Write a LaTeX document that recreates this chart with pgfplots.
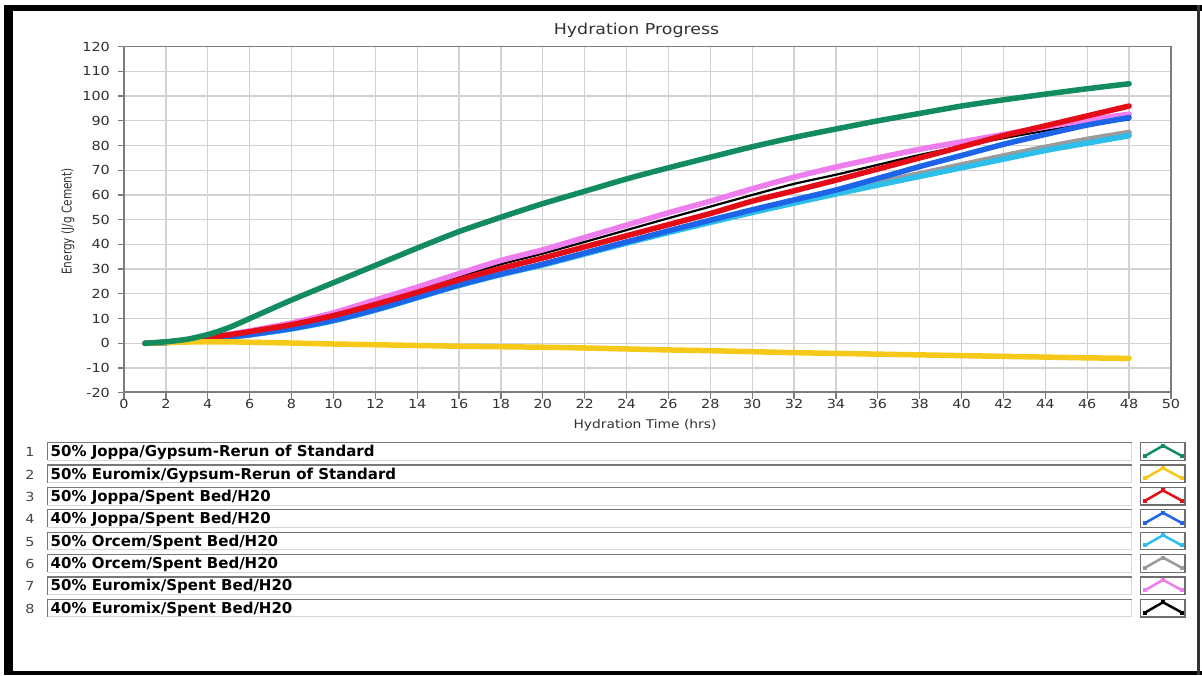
\documentclass[border=0pt]{standalone}
\usepackage{pgfplots}
\pgfplotsset{compat=1.18}
\usepackage{pgfplotstable}
\usepackage{fontspec}
\setmainfont{DejaVu Sans}
\newfontfamily\tkf[FakeStretch=1.15]{DejaVu Sans}
\newfontfamily\ttlf[FakeStretch=1.16]{DejaVu Sans}
\newfontfamily\ylf[FakeStretch=0.78]{DejaVu Sans}
\newfontfamily\legf{DejaVu Sans Bold}
\definecolor{cG}{RGB}{18,140,95}
\definecolor{cY}{RGB}{245,200,25}
\definecolor{cR}{RGB}{228,12,22}
\definecolor{cB}{RGB}{30,100,232}
\definecolor{cC}{RGB}{45,190,235}
\definecolor{cGr}{RGB}{155,155,155}
\definecolor{cM}{RGB}{238,125,238}
\definecolor{cK}{RGB}{0,0,0}
\definecolor{gridc}{RGB}{210,210,210}
\definecolor{axc}{RGB}{125,125,125}
\definecolor{txt}{RGB}{50,50,50}
\definecolor{numc}{RGB}{70,70,70}
\definecolor{boxdk}{RGB}{120,120,120}
\definecolor{boxlt}{RGB}{215,215,215}
\definecolor{swb}{RGB}{110,110,110}

\pgfplotstableread{
x   G     Y     R     B     C     Gr    M     K
1   0     0     0     0     0     0     0     0
2   0.6   0.3   0.4   0.3   0.3   0.3   0.4   0.4
3   1.6   0.5   1.2   1.0   1.0   1.0   1.2   1.2
4   3.5   0.6   2.3   1.8   1.7   1.8   2.4   2.3
5   6.3   0.6   3.4   2.6   2.5   2.6   3.6   3.4
6   10    0.4   4.7   3.5   3.4   3.4   5.0   4.8
8   17.5  0.1   7.5   6.0   5.8   5.9   8.2   7.8
10  24.5  -0.3  11.2  9.3   9.1   9.2   12.3  11.7
12  31.5  -0.6  15.7  13.6  13.4  13.5  17.5  16.5
14  38.5  -0.9  20.6  18.6  18.4  18.5  22.7  21.6
16  45.2  -1.2  25.7  23.6  23.4  23.5  28.2  27.0
18  51    -1.4  30.3  28.0  27.8  27.9  33.5  32.0
20  56.5  -1.6  34.5  32.0  31.7  31.9  37.8  36.3
22  61.5  -1.9  39.0  36.5  36.1  36.3  42.8  41.0
24  66.5  -2.3  43.5  41.0  40.5  40.8  47.8  45.8
26  71    -2.7  48.0  45.5  44.8  45.2  52.8  50.6
28  75.3  -3.0  52.5  49.8  48.9  49.4  57.5  55.3
30  79.5  -3.4  57.5  54.0  52.9  53.5  62.5  60.0
32  83.3  -3.8  61.7  58.0  56.7  57.4  67.2  64.5
34  86.7  -4.1  66.0  62.0  60.4  61.3  71.3  68.2
36  90    -4.4  70.5  66.7  64.0  65.0  75.0  72.2
38  93    -4.7  75.0  71.5  67.5  68.6  78.5  76.2
40  96    -5.0  79.5  76.0  71.0  72.2  81.5  79.7
42  98.5  -5.3  84.0  80.5  74.5  75.8  84.5  83.0
44  100.8 -5.6  88.0  84.5  78.0  79.3  87.5  86.0
46  103   -5.9  92.0  88.3  81.0  82.5  90.3  88.7
48  105   -6.1  96.0  91.3  84.0  85.3  92.7  90.5
}\data

\newcommand\legrow[3]{%
 \pgfmathsetmacro\ytop{232.3-22.37*(#1-1)}%
 \pgfmathsetmacro\ybot{\ytop-17.6}%
 \pgfmathsetmacro\ybase{218.3-22.37*(#1-1)}%
 \fill[white] (47.7pt,\ybot pt) rectangle (1131.7pt,\ytop pt);
 \draw[boxlt, line width=1pt] (47.7pt,\ybot pt) -- (1131.7pt,\ybot pt) -- (1131.7pt,\ytop pt);
 \draw[boxdk, line width=1.2pt] (47.7pt,\ybot pt) -- (47.7pt,\ytop pt) -- (1131.7pt,\ytop pt);
 \node[anchor=base west, inner sep=0pt, font=\legf\fontsize{15}{17}\selectfont] at (50.5pt,\ybase pt) {#2};
 \node[anchor=base, inner sep=0pt, font=\tkf\fontsize{12.5}{14}\selectfont, text=numc] at (30pt,\ybase pt) {#1};
 \draw[fill=white, draw=swb, line width=1.3pt] (1140.7pt,\ybot pt) rectangle (1185pt,\ytop pt);
 \draw[#3, line width=2.5pt, line join=round] (1145pt,\ybot pt+4.3pt) -- (1163pt,\ytop pt-3pt) -- (1182pt,\ybot pt+4.3pt);
 \fill[#3] (1143pt,\ybot pt+2.3pt) rectangle +(4pt,4pt);
 \fill[#3] (1161pt,\ytop pt-5pt) rectangle +(4pt,4pt);
 \fill[#3] (1180pt,\ybot pt+2.3pt) rectangle +(4pt,4pt);
}

\begin{document}
\begin{tikzpicture}
\useasboundingbox (0,0) rectangle (1202pt,675pt);
\fill[white] (0,0) rectangle (1202pt,675pt);
\fill[black] (4pt,0pt) rectangle (13.3pt,670pt);
\fill[black] (4pt,664pt) rectangle (1202pt,670pt);
\fill[black] (4pt,0pt) rectangle (1202pt,4pt);
\fill[black!80] (1197pt,0pt) rectangle (1199.5pt,670pt);

\begin{axis}[
  at={(124pt,282.3pt)}, anchor=south west,
  scale only axis, width=1047pt, height=346pt,
  xmin=0, xmax=50, ymin=-20, ymax=120,
  xtick={0,2,...,50}, ytick={-20,-10,...,120},
  grid=major,
  major grid style={draw=gridc, line width=1.3pt},
  axis line style={draw=axc, line width=1.3pt},
  tick align=outside, major tick length=6pt,
  xtick pos=left, ytick pos=left,
  tick style={draw=axc, line width=1.3pt},
  /pgf/number format/assume math mode=true,
  tick label style={font=\tkf\fontsize{12.5}{14}\selectfont, text=txt},
  yticklabel style={anchor=east, inner sep=0pt, xshift=-8pt},
  xticklabel style={anchor=north, inner sep=0pt},
  every axis plot/.append style={line width=5.5pt, line cap=round, line join=round, smooth, tension=0.4},
]
\addplot[cK, line width=2.2pt] table[x=x,y=K] {\data};
\addplot[cM] table[x=x,y=M] {\data};
\addplot[cGr] table[x=x,y=Gr] {\data};
\addplot[cC] table[x=x,y=C] {\data};
\addplot[cB] table[x=x,y=B] {\data};
\addplot[cR] table[x=x,y=R] {\data};
\addplot[cY] table[x=x,y=Y] {\data};
\addplot[cG] table[x=x,y=G] {\data};
\draw[axc, line width=2.8pt] (rel axis cs:0,0) -- (rel axis cs:0,1);
\draw[axc, line width=2.8pt] (rel axis cs:0,0) -- (rel axis cs:1,0);
\end{axis}

\node[anchor=base, inner sep=0pt, font=\ttlf\fontsize{15}{17}\selectfont, text=txt] at (636.5pt,640pt) {Hydration Progress};
\node[anchor=base, inner sep=0pt, font=\tkf\fontsize{12}{14}\selectfont, text=txt] at (645pt,246.7pt) {Hydration Time (hrs)};
\node[rotate=90, anchor=center, inner sep=0pt, font=\ylf\fontsize{13.5}{15}\selectfont, text=txt] at (68pt,453.5pt) {Energy (J/g Cement)};

\legrow{1}{50\% Joppa/Gypsum-Rerun of Standard}{cG}
\legrow{2}{50\% Euromix/Gypsum-Rerun of Standard}{cY}
\legrow{3}{50\% Joppa/Spent Bed/H20}{cR}
\legrow{4}{40\% Joppa/Spent Bed/H20}{cB}
\legrow{5}{50\% Orcem/Spent Bed/H20}{cC}
\legrow{6}{40\% Orcem/Spent Bed/H20}{cGr}
\legrow{7}{50\% Euromix/Spent Bed/H20}{cM}
\legrow{8}{40\% Euromix/Spent Bed/H20}{cK}
\end{tikzpicture}
\end{document}
